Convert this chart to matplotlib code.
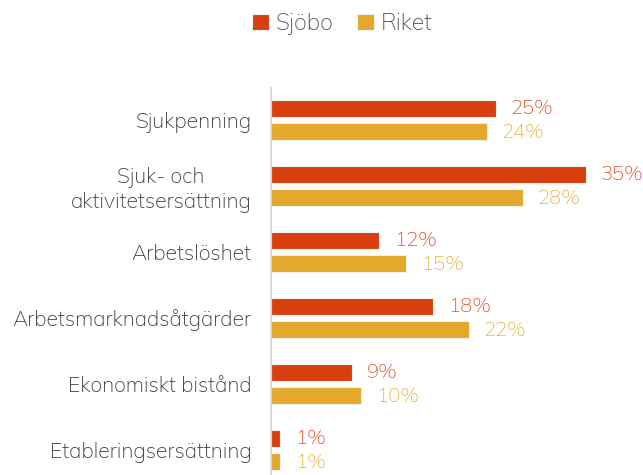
import matplotlib.pyplot as plt
import numpy as np

# --- Data ---
categories = ["Sjukpenning", "Sjuk- och\naktivitetsersättning", "Arbetslöshet",
              "Arbetsmarknadsåtgärder", "Ekonomiskt bistånd", "Etableringsersättning"]
sjobo = [25, 35, 12, 18, 9, 1]
riket = [24, 28, 15, 22, 10, 1]

c_sjobo = "#D83F0F"
c_riket = "#E4A82A"
lbl_sjobo = "#E2562B"
lbl_riket = "#ECB241"

plt.rcParams["font.family"] = ["Mulish", "DejaVu Sans"]
plt.rcParams["font.weight"] = 300

fig = plt.figure(figsize=(6.43, 4.75), dpi=100)
ax = fig.add_axes([271 / 643, 0, (640 - 271) / 643, 1 - 88 / 475])

y = np.arange(len(categories))
off = 0.177
h = 0.26
b1 = ax.barh(y - off, sjobo, height=h, color=c_sjobo, edgecolor="#e9f2ef", linewidth=0.8, label="Sjöbo")
b2 = ax.barh(y + off, riket, height=h, color=c_riket, edgecolor="#e9f2ef", linewidth=0.8, label="Riket")

# value labels next to each bar
for bars, vals, col in [(b1, sjobo, lbl_sjobo), (b2, riket, lbl_riket)]:
    for bar, v in zip(bars, vals):
        ax.annotate(f"{v}%", (bar.get_width(), bar.get_y() + bar.get_height() / 2),
                    xytext=(15, -1), textcoords="offset pixels", va="center", ha="left",
                    color=col, fontsize=14.5, fontweight=300)

ax.set_xlim(0, 369 / 9)
ax.set_ylim(5.38, -0.485)
ax.set_yticks(y)
ax.set_yticklabels(categories, fontsize=15.2, color="#404040", fontweight=300,
                   multialignment="center", linespacing=1.25)
ax.tick_params(axis="y", length=0, pad=14)
ax.set_xticks([])
for s in ["top", "right", "bottom"]:
    ax.spines[s].set_visible(False)
ax.spines["left"].set_color("#d9d9d9")
ax.spines["left"].set_linewidth(1.5)

fig.legend(handles=[b1, b2], loc="center", bbox_to_anchor=(0.532, 1 - 24 / 475), ncol=2,
           frameon=False, handlelength=0.75, handleheight=0.75,
           handletextpad=0.3, columnspacing=1.0, labelcolor="#595959",
           prop={"family": "Mulish", "weight": 300, "size": 16.5})

fig.savefig("out.png", dpi=100)
